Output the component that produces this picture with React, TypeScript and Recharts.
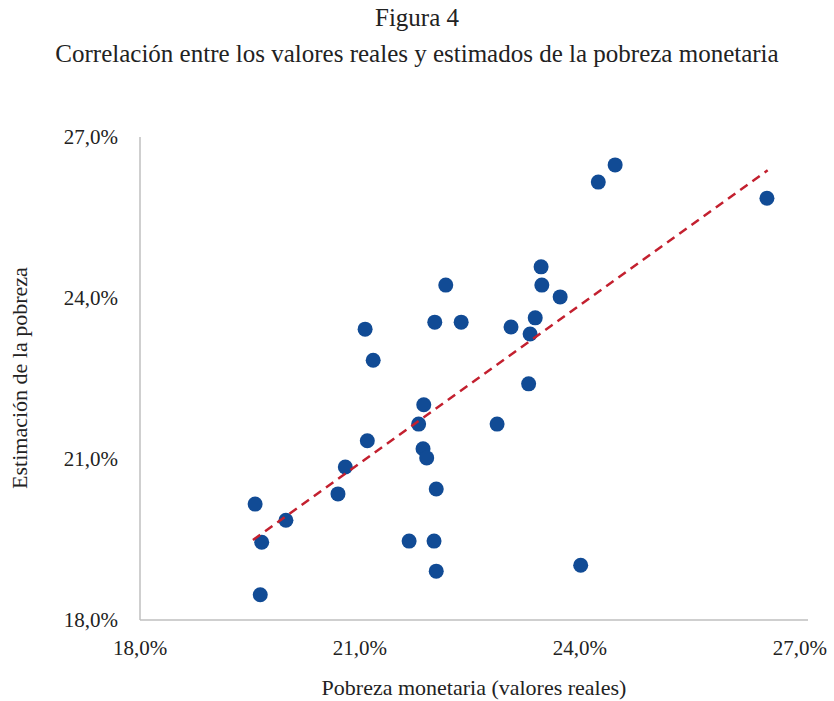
import { Scatter, ScatterChart, XAxis, YAxis } from "recharts";

const realValues = [
  19.57, 19.66, 19.64, 19.99, 20.7, 20.8, 21.1, 21.07, 21.18, 21.67, 21.8, 21.87, 21.86, 21.91, 22.02, 22.04,
  22.01, 22.04, 22.17, 22.38, 22.87, 23.06, 23.32, 23.3, 23.39, 23.47, 23.48, 23.73, 24.01, 24.25, 24.48, 26.55,
];
const estimatedValues = [
  20.16, 19.45, 18.47, 19.86, 20.35, 20.85, 21.34, 23.42, 22.84, 19.47, 21.65, 22.01, 21.19, 21.02, 23.55, 20.44,
  19.47, 18.91, 24.24, 23.55, 21.65, 23.46, 23.33, 22.4, 23.63, 24.58, 24.24, 24.02, 19.02, 26.16, 26.48, 25.86,
];
const trendX = [19.54, 26.56];
const trendY = [19.49, 26.38];
const ticks = [18, 21, 24, 27];

const points = realValues.map((x, i) => ({ x, y: estimatedValues[i] }));
const trend = trendX.map((x, i) => ({ x, y: trendY[i] }));

const FONT = "'Liberation Serif', 'DejaVu Serif', serif";
const fmt = (v: number) => `${v.toFixed(1).replace(".", ",")}%`;
const tickStyle = { fontSize: 21, fill: "#222", fontFamily: FONT };

const Dot = (props: any) => <circle cx={props.cx} cy={props.cy} r={7.5} fill="#114b95" />;
const NoDot = () => <g />;

export default function App() {
  return (
    <div style={{ position: "absolute", left: 0, top: 0, width: 834, height: 701, background: "#fff", fontFamily: FONT, color: "#222" }}>
      <div style={{ position: "absolute", top: 4, width: 834, textAlign: "center", fontSize: 25 }}>Figura 4</div>
      <div style={{ position: "absolute", top: 40, width: 834, textAlign: "center", fontSize: 25 }}>
        Correlación entre los valores reales y estimados de la pobreza monetaria
      </div>
      <ScatterChart width={834} height={701} margin={{ top: 137, right: 26, bottom: 41, left: 80 }}>
        <XAxis
          type="number"
          dataKey="x"
          domain={[18, 27.11]}
          ticks={ticks}
          tickFormatter={fmt}
          tick={tickStyle}
          tickLine={false}
          tickSize={0}
          tickMargin={20}
          axisLine={{ stroke: "#bfbfbf", strokeWidth: 1.5 }}
          height={40}
          allowDataOverflow
        />
        <YAxis
          type="number"
          dataKey="y"
          domain={[18, 27]}
          ticks={ticks}
          tickFormatter={fmt}
          tick={tickStyle}
          tickLine={false}
          tickSize={0}
          tickMargin={22}
          axisLine={{ stroke: "#bfbfbf", strokeWidth: 1.5 }}
          width={60}
        />
        <Scatter data={points} shape={Dot} isAnimationActive={false} />
        <Scatter
          data={trend}
          shape={NoDot}
          line={{ stroke: "#c3202f", strokeWidth: 2.5, strokeDasharray: "9 6" }}
          isAnimationActive={false}
        />
      </ScatterChart>
      <div style={{ position: "absolute", top: 675, left: 140, width: 668, textAlign: "center", fontSize: 22 }}>
        Pobreza monetaria (valores reales)
      </div>
      <div
        style={{
          position: "absolute",
          left: 20,
          top: 378,
          width: 300,
          marginLeft: -150,
          marginTop: -13,
          textAlign: "center",
          fontSize: 22,
          transform: "rotate(-90deg)",
        }}
      >
        Estimación de la pobreza
      </div>
    </div>
  );
}
